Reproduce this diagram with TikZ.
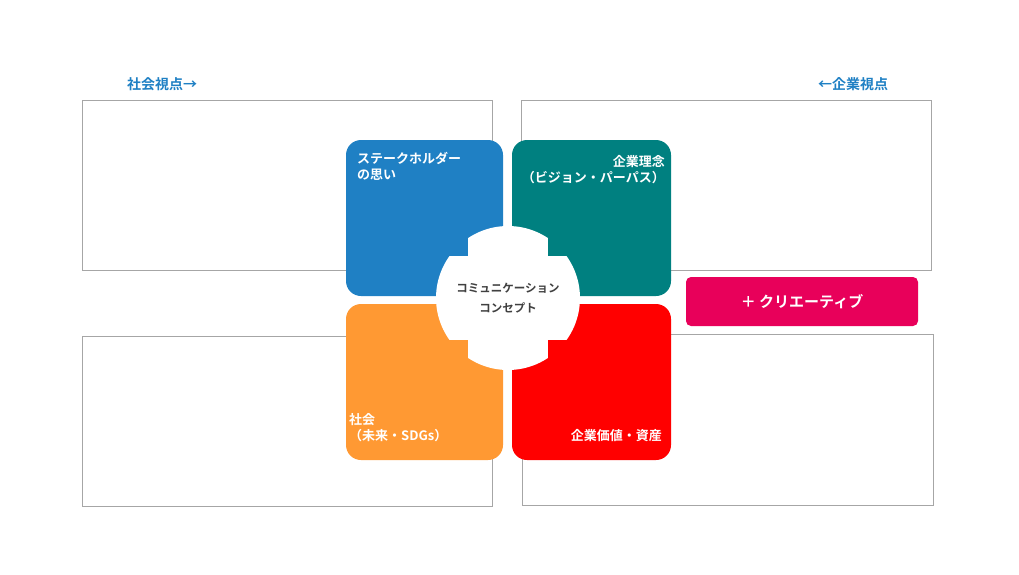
\documentclass[tikz,border=0pt]{standalone}
\usepackage{fontspec}
\setmainfont{Noto Sans CJK JP}[BoldFont={Noto Sans CJK JP Bold}]
\definecolor{viewblue}{HTML}{1F80C4}
\definecolor{tileteal}{HTML}{008080}
\definecolor{tileorange}{HTML}{FF9933}
\definecolor{tilered}{HTML}{FF0000}
\definecolor{creapink}{HTML}{E8005A}
\definecolor{centergray}{HTML}{404040}
\tikzset{
  frame/.style={draw=gray!70, line width=0.8pt},
  tile/.style={rounded corners=15pt},
  tiletext/.style={text=white, font=\bfseries\fontsize{13}{16}\selectfont, inner sep=0pt},
  viewtext/.style={text=viewblue, font=\bfseries\fontsize{14}{16}\selectfont}
}
\begin{document}
\begin{tikzpicture}[x=1pt,y=-1pt]
\useasboundingbox (0,0) rectangle (1019,574);
\node[viewtext] (social) at (162,84) {社会視点→};
\node[viewtext] (corp) at (853,84) {←企業視点};

\draw[frame] (82,100) rectangle (492,270);
\draw[frame] (521,100) rectangle (931,270);
\draw[frame] (82,336) rectangle (492,506);
\draw[frame] (522,334) rectangle (933,505);

\fill[tile, viewblue] (346,140) rectangle (503,296);
\fill[tile, tileteal] (512,140) rectangle (671,296);
\fill[tile, tileorange] (346,304) rectangle (503,460);
\fill[tile, tilered] (512,304) rectangle (671,460);

% central concept
\begin{scope}
\clip (508,298) circle (72);
\fill[white] (468,220) rectangle (548,376);
\fill[white] (430,256) rectangle (586,340);
\end{scope}
\node[text=centergray, font=\bfseries\fontsize{11.5}{20}\selectfont, align=center] (concept) at (508,298) {コミュニケーション\\コンセプト};

\node[tiletext, anchor=north west, align=left] (stake) at (357,152) {ステークホルダー\\の思い};
\node[tiletext, anchor=north east, align=right] (idea) at (665,155) {企業理念\\（ビジョン・パーパス）};
\node[tiletext, anchor=south west, align=left] (society) at (349,442) {社会\\（未来・SDGs）};
\node[tiletext, anchor=south east] (value) at (662,442) {企業価値・資産};

\node[fill=creapink, rounded corners=5pt, minimum width=232pt, minimum height=49pt, text=white, font=\bfseries\fontsize{15}{18}\selectfont] (crea) at (802,301.5) {＋ クリエーティブ};
\end{tikzpicture}
\end{document}
